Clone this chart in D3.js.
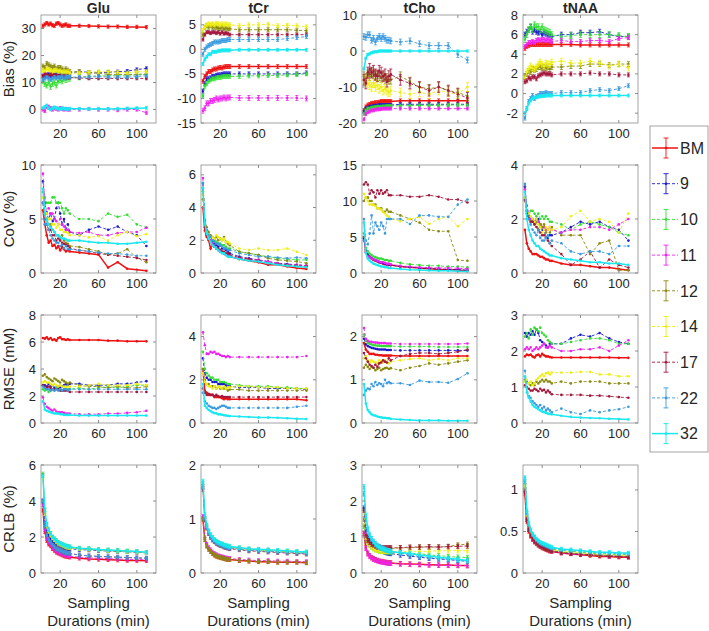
<!DOCTYPE html>
<html>
<head>
<meta charset="utf-8">
<script src="https://cdn.jsdelivr.net/npm/d3@7"></script>
<style>
  body { margin: 0; background: #fff; }
  svg text { font-family: "Liberation Sans", Arial, sans-serif; fill: #262626; }
</style>
</head>
<body>
<svg id="chart" width="709" height="631"></svg>
<script>
// Sampling durations (min)
const durations = [2,4,6,8,10,12,14,16,18,20,22,24,26,28,30,40,50,60,70,80,90,100,110];

// Series: BM, 9, 10, 11, 12, 14, 17, 22, 32
const seriesNames = ["BM","9","10","11","12","14","17","22","32"];
const seriesColors = ["#ee1111","#1a1acc","#33dd33","#ee22ee","#8a8a10","#eeee11","#a3183c","#3a9ae0","#18e8f0"];
const seriesSolid = [true,false,false,false,false,false,false,false,true];

const metabolites = ["Glu","tCr","tCho","tNAA"];
const metrics = ["Bias (%)","CoV (%)","RMSE (mM)","CRLB (%)"];

// y domains and ticks, row by row
const yDomains = [
  [[-5,35],[-15,7],[-20,10],[-3,8]],
  [[0,10],[0,6.6],[0,15],[0,4]],
  [[0,8],[0,5],[0,2.5],[0,3]],
  [[0,6],[0,2],[0,3],[0,1.3]]
];
const yTicks = [
  [[0,10,20,30],[-15,-10,-5,0,5],[-20,-10,0,10],[-2,0,2,4,6,8]],
  [[0,5,10],[0,2,4,6],[0,5,10,15],[0,2,4]],
  [[0,2,4,6,8],[0,2,4],[0,1,2],[0,1,2,3]],
  [[0,2,4,6],[0,1,2],[0,1,2,3],[0,0.5,1]]
];
const xTicks = [20,60,100];

// ---- Bias (%) ----
const biasGlu = [
  [31,31.5,32,31.5,31.8,31.2,31,31.8,32,31.5,31,31.2,31.5,31,31,31,30.9,30.8,30.7,30.7,30.6,30.6,30.5],
  [12.5,12,12.5,13,12.5,13,12.8,13,13.2,13,13,13.5,13,13.5,13.5,14,13.8,13.5,13.8,14,14.2,14.8,15.2],
  [10.5,9.5,9,10,8.5,9.5,10,9,10.5,11,10.5,11.5,11,11.5,11.5,12,12.2,12.5,12.5,12.7,12.7,12.8,13],
  [0,-0.5,1,1,0.5,0,0.5,0.3,0,0.5,0.3,0,0.2,0,0,0,0.2,0,0,-0.2,0,0,-1.2],
  [16,15.5,17,16.5,16,15.5,16,15,15.5,15.5,15,14.5,15,14.5,14,14,13.5,13.5,13,13,13,13,13.2],
  [14.5,14,15,14.8,14.5,14,14.5,14.5,14,14.2,13.8,14,13.8,14,13.5,13.5,13.8,14,14,13.8,13.5,14,14],
  [12.5,13,13,12.5,13,12.5,12.8,12.5,12.5,12.2,12,12.3,12,11.8,11.8,11.7,11.5,11.5,11.5,11.5,11.5,11.5,11.5],
  [11,11.5,12,11.5,11,11.5,12,11.5,12,11.8,12,11.5,12,12,12,12,12,12.2,12,12,12,12.2,12.5],
  [0.5,1,1.5,0.5,0,0.5,0.8,0.5,0.3,0.2,0.5,0.3,0.2,0.2,0.3,0.3,0.2,0.3,0.2,0.3,0.4,0.5,0.6]
];
const biasTCr = [
  [-6.5,-5.5,-5,-4.5,-4.5,-4.2,-4,-4,-3.8,-3.7,-3.8,-3.6,-3.5,-3.5,-3.5,-3.5,-3.5,-3.5,-3.5,-3.5,-3.5,-3.5,-3.5],
  [-8.5,-7,-6,-6,-5.8,-5.5,-5.5,-5.3,-5.2,-5.2,-5.1,-5,-5,-5,-5,-5,-5,-5,-5,-5,-5,-5,-4.8],
  [-9.5,-7.5,-7,-6.5,-6.2,-6,-6,-5.8,-5.7,-5.7,-5.6,-5.5,-5.5,-5.5,-5.5,-5.5,-5.4,-5.4,-5.3,-5.3,-5.2,-5.1,-5],
  [-12.5,-12,-11,-11,-10.5,-10.5,-10.3,-10,-10.2,-10,-10,-9.8,-10,-9.8,-9.8,-9.9,-9.9,-9.9,-9.9,-9.9,-9.9,-9.9,-10],
  [3,4.5,4.8,4.5,4.8,4.5,4.5,4.5,4.3,4.3,4.5,4.2,4.3,4.2,4.2,4,4,4,4,4,4,3.9,3.8],
  [3.8,4.5,5,5.2,5,5.2,5,5.3,5.2,5,5.2,5,5.2,5,5,4.8,5,5,5.1,4.8,4.9,4.8,4.6],
  [2,3,3.5,3.5,3.3,3.5,3.5,3.3,3.5,3.2,3.5,3.2,3.3,3.2,3,3,3,3,3,3,3,3,3],
  [-1,0,0.5,0.8,1,1.2,1.5,1.5,1.5,1.6,1.8,1.8,1.8,2,2,2,2,2,2,2,2.2,2.4,2.6],
  [-3,-2,-1.5,-1,-1,-0.5,-0.5,-0.5,-0.3,-0.3,-0.2,-0.2,-0.2,-0.2,-0.2,-0.1,-0.1,-0.1,-0.1,-0.1,-0.1,-0.1,-0.1]
];
const biasTCho = [
  [-16.5,-15.5,-15,-14.8,-14.5,-14.5,-14.3,-14.3,-14.2,-14,-14,-14,-14,-14,-14,-13.8,-13.8,-13.8,-13.8,-13.8,-13.8,-13.8,-13.8],
  [-17,-16,-15.8,-15.5,-15.5,-15.3,-15.2,-15.2,-15,-15,-15,-15,-15,-15,-15,-14.8,-14.8,-14.8,-14.8,-14.8,-14.8,-14.8,-14.8],
  [-17.5,-16.5,-16,-16,-15.8,-15.7,-15.6,-15.5,-15.5,-15.5,-15.4,-15.4,-15.3,-15.3,-15.3,-15.2,-15.2,-15.1,-15.1,-15.1,-15,-15,-15],
  [-19,-17.5,-17,-16.8,-16.5,-16.5,-16.3,-16.2,-16.2,-16.1,-16,-16,-16,-16,-16,-16,-16,-16,-16,-16,-16,-16,-16],
  [-7,-7.5,-6.5,-7,-6,-6.5,-7,-6.5,-7,-7.5,-7,-8,-7.5,-8,-8,-7,-8.5,-10,-10.5,-10,-11,-11.5,-12.5],
  [-8,-8.5,-9,-9.5,-10,-9,-10,-9.5,-10.5,-10,-11,-10.5,-11,-11.5,-11,-11.5,-12,-11.5,-12,-11,-11.5,-12,-10],
  [-8,-9,-6,-5,-6,-5.5,-6.5,-7,-5.5,-6,-7,-6.5,-8.5,-7,-6.5,-8,-9,-10,-11,-10,-11,-12,-13],
  [4,3.8,4.5,4.5,3,3.5,2.5,3.5,4,3.5,4,3.5,3,3,2.8,2.5,2.8,2,1.5,1.5,1.5,-1,-2.5],
  [-5,-2,-1,-0.8,-0.5,-0.3,-0.2,-0.2,0,0,0,0,0,0,0,0,0,0,0,0,0,0,0]
];
const biasTNAA = [
  [4.6,4.8,4.9,5,5,5,5,5,5,5,5,5,5,5,5,5,5,4.95,4.95,4.95,4.95,4.95,4.95],
  [6,6.3,6.5,6.8,6.3,6.5,6.3,6.2,6.3,6,6.2,6.1,6,6,5.8,6,6,6.2,6.2,6.3,6,5.8,5.8],
  [5.5,6,6.5,6.8,6.5,7,6.8,6.8,6.5,6.8,6.5,6.4,6.3,6.2,6,5.8,5.9,6,6,6,6,5.9,5.8],
  [4.8,5,5.2,5.2,5.3,5.2,5.4,5.5,5.4,5.5,5.5,5.4,5.5,5.4,5.3,5.4,5.3,5.3,5.4,5.4,5.3,5.6,5.7],
  [1.8,2,2.3,2.2,2.5,2.4,2.5,2.7,2.7,2.6,2.7,2.6,2.7,2.5,2.7,2.7,2.8,2.8,3,3,2.9,3,3],
  [1.5,2.2,2.5,2.8,2.6,2.5,2.7,3,3.2,3,2.8,3.1,3,3,3.2,3.3,3.1,3.1,3.3,3.1,2.8,3,2.6],
  [1.2,1.3,1.6,1.5,1.7,1.7,1.5,1.8,1.9,2,2.1,2,2,2,1.9,2,2,2,2.1,2,2,1.9,1.9],
  [-2.5,-1.5,-0.8,-0.5,-0.2,-0.5,-0.3,-0.2,0,0,0,0.1,0,0,0,0.1,0.1,0.1,0.3,0.4,0.3,0.5,0.8],
  [-2,-1.5,-1,-0.7,-0.5,-0.4,-0.4,-0.3,-0.3,-0.25,-0.25,-0.2,-0.2,-0.2,-0.2,-0.2,-0.2,-0.2,-0.2,-0.2,-0.2,-0.2,-0.2]
];

// ---- CoV (%) ----
const covGlu = [
  [5.8,4.5,3.5,2.8,3,2.5,2.6,2.3,2.5,2.1,2.4,2.2,2,2.1,2,1.9,1.8,1.7,0.5,1,0.4,0.3,0.2],
  [8.5,6.5,5.5,5,5.5,4.8,5,6,6.5,5.5,4.5,5,4,4.5,3.8,3.5,4,4.3,4,4.3,3.8,3.5,2.5],
  [7.5,7,6.5,6.5,6.5,7,7,6.5,6.5,6.5,6,5.5,6,5.8,5.5,5,5,4.8,5.5,5.2,5.4,4.5,4.2],
  [9.2,6.5,5.5,6,5.5,5.5,5,4.8,4.5,5,4.5,4.3,4,4,3.8,3.7,3.8,3.5,3.5,3.7,3.8,3.8,4.2],
  [6.5,5.5,5,4.5,4.5,4,3.8,3.5,3.5,3.2,3.5,3,2.8,2.7,2.5,2.4,2.2,2,1.7,1.8,2.2,1.4,1],
  [7,6,5.5,5,5,4.5,4.5,4.2,4.5,4,4,3.8,3.8,3.7,3.5,3.5,3.3,3.4,3,3.5,3.8,3.4,3.6],
  [6.5,5,4.5,4,4,3.5,3.5,3,3.2,3,2.8,2.7,2.6,2.5,2.3,2.1,2,1.8,1.7,1.6,1.5,1.4,1.2],
  [6.5,4.5,4.5,4,3.5,3.2,3,2.8,2.8,2.5,2.6,2.3,2.5,2.2,2.2,2.1,2,1.9,1.8,1.8,1.7,1.6,1.6],
  [7.8,5.5,4.8,4.5,4.2,4,3.8,3.5,3.5,3.3,3.2,3.2,3.1,3,3,3,2.9,2.8,2.8,2.7,2.7,2.8,2.9]
];
const covTCr = [
  [4,2.6,2.2,2,1.5,1.8,1.6,1.5,1.4,1.4,1.3,1.2,1.1,1.1,1,0.85,0.75,0.65,0.5,0.5,0.4,0.3,0.25],
  [5.5,3,2.4,2.2,2,1.9,1.8,1.7,1.6,1.7,1.5,1.5,1.4,1.3,1.2,1,0.9,0.8,0.7,0.6,0.55,0.5,0.45],
  [5,3.2,2.6,2.3,2.2,2,2,1.9,1.8,1.8,1.7,1.7,1.6,1.5,1.5,1.3,1.2,1.1,1,0.9,0.85,0.8,0.8],
  [5.8,3,2.5,2.2,2,1.8,1.6,1.5,1.4,1.3,1.3,1.2,1.1,1.1,1,0.9,0.85,0.8,0.7,0.6,0.5,0.5,0.45],
  [4.5,3.2,2.8,2.5,2.3,2.2,2.1,2.2,2,2.1,2,2.2,1.9,1.8,1.7,1.3,1.2,1.1,0.9,0.8,0.75,0.7,0.6],
  [4.8,3,2.5,2.3,2.2,2.2,2.1,2.3,2.2,2.1,2,2.1,1.9,1.9,1.8,1.5,1.4,1.5,1.4,1.4,1.5,1.3,1.1],
  [5.2,2.8,2.3,2.1,1.9,1.7,1.6,1.5,1.5,1.4,1.3,1.3,1.2,1.2,1.1,0.95,0.85,0.75,0.6,0.55,0.5,0.45,0.4],
  [5.5,3.2,2.6,2.3,2.2,2,1.9,1.8,1.8,1.7,1.6,1.5,1.5,1.4,1.4,1.2,1.1,1,1,0.95,0.9,0.95,0.9],
  [5.2,3,2.4,2.1,1.9,1.7,1.6,1.5,1.4,1.3,1.2,1.2,1.1,1,1,0.85,0.75,0.7,0.6,0.5,0.45,0.4,0.35]
];
const covTCho = [
  [5,3,2.5,2.2,2,1.8,1.7,1.6,1.5,1.4,1.3,1.2,1.2,1.1,1.1,0.9,0.8,0.7,0.6,0.5,0.45,0.4,0.3],
  [4.8,3.2,2.6,2.3,2.1,1.9,1.8,1.7,1.5,1.5,1.4,1.3,1.2,1.2,1.1,0.9,0.8,0.7,0.6,0.6,0.5,0.45,0.4],
  [5.5,3.5,3,2.7,2.5,2.3,2.2,2.1,2,2,1.9,1.8,1.8,1.7,1.7,1.4,1.2,1.1,1,1,0.9,0.9,0.8],
  [4.5,2.8,2.3,2.2,2,1.9,1.8,1.7,1.6,1.5,1.5,1.4,1.3,1.3,1.2,1,0.9,0.8,0.75,0.7,0.7,0.65,0.6],
  [10,10.5,10.5,10,10,9.5,9.5,9,9,9,8.5,8.5,8.8,8.5,8.5,8,7.5,7,6,5.8,5.8,1.8,1.7],
  [11,10.5,10,9.5,9.5,9.5,9.3,9,9,8.8,8.5,8.3,8,7.8,7.5,7.2,7.5,7.8,6.8,7.5,7.8,6.5,7.5],
  [12.3,12.6,12.3,11,11.5,11.2,10.5,11.5,11,11.5,11,11.2,11.5,10.8,10.8,10.8,10.6,10.6,10.8,10.6,10.2,10.2,9.8],
  [7.5,4.5,4,5.5,8,5.5,7,6.5,6,7,6.5,5.5,7.5,7.5,7.5,7.5,6.8,8,8,7.8,7.8,9.5,10.2],
  [7,2.8,2,1.7,1.5,1.3,1.2,1.1,1,0.9,0.9,0.8,0.8,0.7,0.7,0.55,0.45,0.4,0.35,0.3,0.3,0.25,0.2]
];
const covTNAA = [
  [1.6,1.1,0.9,0.8,0.7,0.7,0.7,0.65,0.6,0.6,0.55,0.5,0.5,0.45,0.45,0.35,0.3,0.3,0.25,0.2,0.2,0.15,0.1],
  [3.2,2.3,2.1,2,1.9,1.9,2,2,1.8,1.6,1.6,1.3,1.3,1.4,1.4,1.5,1.7,1.9,1.8,1.9,1.7,1.6,1.2],
  [2.8,2.3,2.2,2.3,2.3,2.2,2.1,2.2,2,2.1,2,2.1,2,1.9,1.9,1.8,1.6,1.8,1.9,1.8,1.7,1.5,1.4],
  [3.1,2.5,2.2,2,2,1.9,2,1.9,1.8,1.7,1.7,1.6,1.6,1.7,1.6,1.5,1.6,1.6,1.7,1.7,1.6,1.8,2],
  [2.7,2.3,2,1.9,2,1.8,1.9,1.6,1.8,1.7,1.8,1.5,1.6,1.5,1.7,1.4,1.4,1.4,0.7,1.1,1.2,0.1,0.1],
  [2.8,2.3,2.2,2.1,2,1.9,2,1.8,1.7,1.5,1.6,1.7,1.6,1.7,1.6,1.7,2.1,2.3,1.9,2,1.9,1.5,2.2],
  [2.7,2.2,2,1.9,1.9,1.8,1.7,1.6,1.5,1.4,1.4,1.3,1.2,1.1,1,0.7,0.3,0.5,0.8,0.2,0.5,0.3,0.2],
  [3.3,2.3,2,1.8,1.6,1.5,1.4,1.6,1.3,1.2,1.2,1.3,1.4,1.1,1.2,1.1,0.8,0.7,0.8,0.8,0.7,1,1],
  [3,2,1.6,1.4,1.2,1.1,1,1,0.9,0.85,0.8,0.75,0.7,0.65,0.65,0.55,0.5,0.45,0.4,0.4,0.35,0.35,0.3]
];

// ---- RMSE (mM) ----
const rmseGlu = [
  [6.3,6.25,6.35,6.2,6.3,6.15,6.2,6.1,6.3,6.35,6.2,6.2,6.15,6.2,6.15,6.15,6.15,6.15,6.1,6.1,6.05,6.05,6.05],
  [2.8,2.8,2.7,2.9,2.7,2.8,2.6,2.6,2.7,2.6,2.7,2.8,2.9,2.8,2.9,2.9,2.8,2.8,2.8,2.9,2.9,3,3.1],
  [2.5,2.4,2.5,2.3,2.4,2.5,2.4,2.6,2.5,2.5,2.4,2.5,2.5,2.5,2.5,2.6,2.5,2.6,2.7,2.6,2.7,2.8,2.8],
  [1.9,1.4,1.2,1.1,1,0.9,1,0.85,0.8,0.8,0.8,0.75,0.7,0.7,0.7,0.65,0.65,0.65,0.7,0.7,0.75,0.8,0.9],
  [3.5,3.6,3.4,3.3,3.2,3.1,3.3,3.2,3.1,3,3.2,3.1,3,2.9,3,2.8,2.7,2.7,2.6,2.7,2.6,2.6,2.7],
  [3,3.1,3,3,2.9,2.8,2.9,2.8,2.7,2.8,2.7,2.7,2.6,2.7,2.7,2.7,2.8,2.9,2.8,2.8,2.8,2.9,2.8],
  [2.8,2.7,2.6,2.7,2.6,2.5,2.5,2.5,2.5,2.4,2.4,2.4,2.4,2.4,2.3,2.3,2.3,2.3,2.3,2.3,2.3,2.3,2.3],
  [2.7,2.6,2.5,2.5,2.4,2.5,2.4,2.5,2.4,2.5,2.4,2.5,2.5,2.4,2.5,2.5,2.5,2.5,2.5,2.5,2.5,2.5,2.5],
  [1.6,1,0.9,0.85,0.8,0.75,0.7,0.7,0.7,0.65,0.65,0.6,0.6,0.6,0.6,0.55,0.55,0.55,0.55,0.55,0.55,0.55,0.55]
];
const rmseTCr = [
  [2.5,1.5,1.4,1.3,1.3,1.3,1.2,1.2,1.2,1.2,1.15,1.1,1.15,1.1,1.1,1.1,1.1,1.1,1.1,1.1,1.1,1.1,1.05],
  [3,2.3,2.1,2,2,1.9,1.9,1.9,1.8,1.8,1.8,1.8,1.75,1.7,1.7,1.65,1.65,1.65,1.6,1.6,1.6,1.6,1.55],
  [3.3,2.5,2.3,2.2,2.1,2.1,2,2,2,1.9,1.9,1.9,1.85,1.8,1.8,1.75,1.7,1.7,1.7,1.65,1.65,1.6,1.6],
  [4.2,3.6,3.2,3.2,3.3,3.25,3.3,3.2,3.2,3.15,3.1,3.1,3.05,3.1,3.05,3.05,3.05,3.05,3.05,3.05,3.05,3.05,3.1],
  [2.5,2,1.8,1.8,1.7,1.7,1.7,1.6,1.7,1.6,1.6,1.6,1.6,1.5,1.55,1.55,1.5,1.5,1.5,1.5,1.5,1.5,1.5],
  [2.3,1.9,1.8,1.7,1.7,1.6,1.7,1.6,1.7,1.65,1.6,1.7,1.6,1.65,1.65,1.7,1.7,1.65,1.65,1.65,1.6,1.6,1.6],
  [1.6,1.4,1.3,1.35,1.3,1.3,1.25,1.3,1.25,1.2,1.25,1.2,1.2,1.2,1.2,1.2,1.2,1.2,1.2,1.2,1.2,1.2,1.2],
  [1.4,1,0.9,0.8,0.75,0.7,0.7,0.65,0.7,0.75,0.8,0.8,0.75,0.7,0.7,0.7,0.7,0.7,0.7,0.7,0.7,0.75,0.8],
  [1.8,0.8,0.7,0.6,0.55,0.5,0.45,0.45,0.4,0.4,0.38,0.36,0.35,0.33,0.32,0.3,0.28,0.26,0.25,0.24,0.22,0.2,0.18]
];
const rmseTCho = [
  [1.85,1.7,1.65,1.6,1.6,1.6,1.58,1.58,1.57,1.57,1.56,1.56,1.56,1.56,1.56,1.55,1.55,1.55,1.55,1.55,1.55,1.55,1.55],
  [1.95,1.82,1.78,1.76,1.74,1.73,1.72,1.71,1.7,1.7,1.7,1.7,1.69,1.69,1.69,1.68,1.68,1.68,1.68,1.68,1.68,1.68,1.68],
  [2.05,1.9,1.85,1.83,1.82,1.8,1.8,1.79,1.79,1.78,1.78,1.78,1.78,1.78,1.78,1.77,1.77,1.77,1.77,1.76,1.76,1.76,1.76],
  [2.2,1.95,1.9,1.88,1.88,1.87,1.86,1.86,1.85,1.85,1.85,1.85,1.84,1.84,1.84,1.83,1.83,1.83,1.83,1.83,1.83,1.83,1.84],
  [1.28,1.35,1.3,1.25,1.3,1.28,1.22,1.25,1.28,1.22,1.25,1.27,1.28,1.25,1.27,1.22,1.28,1.32,1.38,1.35,1.38,1.42,1.45],
  [1.5,1.55,1.45,1.4,1.45,1.42,1.4,1.38,1.45,1.42,1.4,1.45,1.4,1.38,1.42,1.45,1.48,1.5,1.45,1.48,1.45,1.5,1.5],
  [1.62,1.5,1.42,1.35,1.32,1.28,1.35,1.3,1.38,1.4,1.45,1.42,1.4,1.5,1.45,1.55,1.6,1.62,1.62,1.6,1.62,1.65,1.7],
  [0.65,0.75,0.8,0.78,0.9,0.85,0.95,0.88,0.92,0.9,0.85,1,0.92,0.95,0.92,0.92,0.88,0.98,0.95,0.95,0.93,1.02,1.15],
  [0.9,0.45,0.3,0.25,0.2,0.18,0.17,0.15,0.14,0.13,0.12,0.12,0.11,0.11,0.1,0.08,0.07,0.06,0.06,0.06,0.05,0.05,0.05]
];
const rmseTNAA = [
  [1.85,1.9,1.88,1.9,1.85,1.82,1.88,1.9,1.85,1.92,1.88,1.85,1.85,1.83,1.82,1.82,1.82,1.82,1.82,1.82,1.82,1.81,1.81],
  [2.5,2.4,2.5,2.45,2.55,2.45,2.6,2.5,2.3,2.25,2.2,2.15,2.1,2.2,2.2,2.2,2.35,2.45,2.4,2.5,2.35,2.25,2.2],
  [2.4,2.5,2.35,2.6,2.45,2.65,2.6,2.55,2.65,2.5,2.45,2.4,2.3,2.25,2.2,2.2,2.25,2.3,2.35,2.35,2.3,2.2,2.2],
  [2.05,2.1,2.05,2.1,2,2.05,2.1,2.05,2.1,2.15,2.2,2.1,2.1,2.15,2.1,2,2,2.05,2.05,2.1,2,2.15,2.3],
  [1.2,1.15,1.1,1.05,1.1,1.05,1.15,1.1,1.15,1.2,1.15,1.2,1.15,1.15,1.1,1.15,1.1,1.15,1.15,1.15,1.1,1.1,1.1],
  [1.15,1.2,1.1,1.15,1.05,1.1,1.2,1.25,1.3,1.35,1.3,1.38,1.4,1.35,1.4,1.4,1.4,1.42,1.42,1.35,1.35,1.3,1.3],
  [1.05,1,0.95,0.9,0.9,0.95,0.92,0.88,0.95,0.9,0.92,0.85,0.9,0.85,0.8,0.78,0.78,0.78,0.76,0.76,0.74,0.72,0.7],
  [1.45,1,0.75,0.7,0.6,0.55,0.5,0.45,0.5,0.4,0.45,0.35,0.4,0.35,0.3,0.4,0.3,0.25,0.35,0.3,0.35,0.38,0.45],
  [1.3,0.85,0.7,0.6,0.5,0.45,0.42,0.38,0.35,0.32,0.3,0.28,0.26,0.25,0.24,0.2,0.17,0.15,0.14,0.13,0.12,0.11,0.1]
];

// ---- CRLB (%) ----
const crlbGlu = [
  [3.5,2.3,1.8,1.6,1.5,1.35,1.25,1.15,1.1,1.05,1,0.95,0.92,0.9,0.88,0.82,0.78,0.76,0.74,0.72,0.7,0.69,0.68],
  [4,2.8,2.3,2.1,1.9,1.8,1.7,1.6,1.55,1.5,1.45,1.4,1.4,1.35,1.35,1.3,1.28,1.25,1.22,1.2,1.18,1.15,1.12],
  [5.5,3.5,2.7,2.4,2.2,2,1.9,1.8,1.7,1.65,1.6,1.55,1.5,1.48,1.45,1.38,1.35,1.3,1.28,1.25,1.22,1.2,1.15],
  [3.8,2.4,1.9,1.7,1.55,1.4,1.3,1.2,1.15,1.1,1.05,1,0.98,0.95,0.93,0.88,0.84,0.82,0.8,0.78,0.76,0.75,0.74],
  [5.4,3.4,2.6,2.3,2.1,1.95,1.85,1.75,1.65,1.6,1.55,1.5,1.45,1.43,1.4,1.35,1.32,1.28,1.25,1.22,1.2,1.17,1.13],
  [5.3,3.3,2.6,2.3,2.1,1.95,1.85,1.75,1.65,1.6,1.55,1.5,1.45,1.43,1.4,1.35,1.32,1.28,1.25,1.22,1.2,1.17,1.13],
  [4,2.6,2.1,1.85,1.7,1.55,1.45,1.35,1.3,1.25,1.2,1.15,1.12,1.1,1.08,1,0.95,0.92,0.9,0.88,0.86,0.84,0.82],
  [4,2.6,2.1,1.85,1.7,1.55,1.45,1.35,1.3,1.25,1.2,1.15,1.12,1.1,1.08,1,0.95,0.92,0.9,0.88,0.86,0.84,0.82],
  [5.4,3.5,2.7,2.4,2.2,2,1.9,1.8,1.7,1.65,1.6,1.55,1.5,1.48,1.45,1.38,1.35,1.3,1.28,1.25,1.22,1.2,1.15]
];
const crlbTCr = [
  [1,0.62,0.5,0.44,0.4,0.36,0.33,0.31,0.3,0.29,0.28,0.27,0.26,0.25,0.25,0.23,0.22,0.21,0.21,0.2,0.2,0.2,0.19],
  [1.6,1,0.85,0.75,0.68,0.63,0.6,0.57,0.55,0.53,0.52,0.5,0.49,0.48,0.47,0.45,0.43,0.42,0.41,0.4,0.39,0.38,0.37],
  [1.65,1.05,0.87,0.77,0.7,0.65,0.61,0.58,0.56,0.54,0.53,0.51,0.5,0.49,0.48,0.46,0.44,0.43,0.42,0.41,0.4,0.39,0.38],
  [1.05,0.65,0.53,0.47,0.43,0.39,0.36,0.34,0.32,0.31,0.3,0.29,0.28,0.27,0.27,0.25,0.24,0.23,0.23,0.22,0.22,0.21,0.21],
  [1,0.62,0.5,0.44,0.4,0.36,0.34,0.32,0.3,0.29,0.28,0.27,0.26,0.25,0.25,0.23,0.22,0.21,0.21,0.2,0.2,0.2,0.19],
  [1.6,1,0.85,0.75,0.68,0.63,0.6,0.57,0.55,0.53,0.52,0.5,0.49,0.48,0.47,0.45,0.43,0.42,0.41,0.4,0.39,0.38,0.37],
  [1.55,0.98,0.83,0.73,0.66,0.61,0.58,0.55,0.53,0.51,0.5,0.48,0.47,0.46,0.45,0.43,0.41,0.4,0.39,0.38,0.37,0.36,0.35],
  [1.6,1,0.84,0.74,0.67,0.62,0.59,0.56,0.54,0.52,0.51,0.49,0.48,0.47,0.46,0.44,0.42,0.41,0.4,0.39,0.38,0.37,0.36],
  [1.7,1.08,0.88,0.78,0.71,0.66,0.62,0.59,0.57,0.55,0.54,0.52,0.51,0.5,0.49,0.47,0.45,0.44,0.43,0.42,0.41,0.4,0.39]
];
const crlbTCho = [
  [1.1,0.7,0.55,0.48,0.43,0.4,0.37,0.35,0.33,0.32,0.31,0.3,0.29,0.28,0.28,0.26,0.25,0.24,0.23,0.22,0.22,0.21,0.21],
  [1.8,1.2,1,0.9,0.82,0.77,0.72,0.68,0.65,0.62,0.6,0.58,0.56,0.55,0.54,0.5,0.47,0.44,0.41,0.39,0.37,0.35,0.33],
  [1.3,0.95,0.85,0.78,0.72,0.68,0.65,0.63,0.61,0.6,0.6,0.59,0.58,0.58,0.57,0.56,0.55,0.54,0.5,0.48,0.46,0.44,0.43],
  [1.1,0.68,0.53,0.46,0.42,0.38,0.36,0.34,0.32,0.31,0.3,0.29,0.28,0.27,0.27,0.25,0.24,0.23,0.22,0.22,0.21,0.21,0.2],
  [1.5,0.95,0.85,0.8,0.75,0.72,0.7,0.68,0.66,0.65,0.65,0.66,0.67,0.68,0.68,0.7,0.7,0.72,0.72,0.72,0.74,0.78,0.8],
  [1.7,1,0.85,0.78,0.72,0.68,0.65,0.63,0.62,0.6,0.6,0.6,0.6,0.6,0.6,0.6,0.6,0.6,0.6,0.62,0.62,0.62,0.62],
  [1.75,1.05,0.9,0.85,0.8,0.78,0.75,0.72,0.72,0.7,0.7,0.7,0.7,0.7,0.7,0.7,0.72,0.72,0.73,0.72,0.73,0.74,0.75],
  [2.2,1.5,1.2,1.05,0.95,0.88,0.82,0.77,0.73,0.7,0.68,0.65,0.63,0.62,0.6,0.55,0.5,0.46,0.43,0.4,0.38,0.35,0.32],
  [2.4,1.6,1.25,1.05,0.95,0.87,0.8,0.75,0.72,0.69,0.67,0.65,0.63,0.62,0.6,0.57,0.54,0.5,0.47,0.44,0.41,0.38,0.35]
];
const crlbTNAA = [
  [0.95,0.62,0.5,0.44,0.4,0.37,0.35,0.33,0.32,0.3,0.29,0.28,0.27,0.26,0.26,0.24,0.23,0.22,0.21,0.2,0.2,0.19,0.19],
  [1.05,0.68,0.55,0.48,0.43,0.4,0.37,0.35,0.33,0.32,0.31,0.3,0.29,0.28,0.27,0.25,0.24,0.23,0.22,0.22,0.21,0.21,0.2],
  [1.1,0.72,0.58,0.5,0.45,0.42,0.39,0.37,0.35,0.34,0.33,0.32,0.31,0.3,0.29,0.27,0.26,0.25,0.24,0.23,0.23,0.22,0.22],
  [1,0.65,0.52,0.46,0.41,0.38,0.36,0.34,0.32,0.31,0.3,0.29,0.28,0.27,0.26,0.24,0.23,0.22,0.22,0.21,0.2,0.2,0.19],
  [1,0.66,0.53,0.46,0.42,0.39,0.36,0.34,0.33,0.31,0.3,0.29,0.28,0.27,0.27,0.25,0.24,0.23,0.22,0.21,0.21,0.2,0.2],
  [1.05,0.68,0.55,0.48,0.43,0.4,0.37,0.35,0.34,0.32,0.31,0.3,0.29,0.28,0.28,0.26,0.25,0.24,0.23,0.22,0.22,0.21,0.21],
  [0.98,0.64,0.52,0.45,0.41,0.38,0.36,0.34,0.32,0.31,0.3,0.29,0.28,0.27,0.26,0.24,0.23,0.22,0.22,0.21,0.2,0.2,0.19],
  [1.1,0.72,0.58,0.51,0.46,0.43,0.4,0.38,0.36,0.35,0.34,0.33,0.32,0.31,0.3,0.28,0.27,0.26,0.25,0.24,0.24,0.23,0.23],
  [1.15,0.75,0.6,0.52,0.47,0.44,0.41,0.39,0.37,0.36,0.35,0.34,0.33,0.32,0.31,0.29,0.28,0.27,0.26,0.25,0.25,0.24,0.24]
];

// Error bar half-widths per series (Bias and CRLB rows)
const biasErrGlu  = [0.6,0.6,1.0,0.6,0.8,0.7,0.5,0.6,0.5];
const biasErrTCr  = [0.4,0.4,0.4,0.5,0.4,0.4,0.3,0.4,0.3];
const biasErrTCho = [0.5,0.4,0.4,0.4,1.2,1.2,1.5,0.8,0.3];
const biasErrTNAA = [0.2,0.25,0.3,0.2,0.25,0.3,0.2,0.2,0.15];
const crlbErr = [0.1,0.035,0.06,0.02];

const rows = [
  { data: [biasGlu, biasTCr, biasTCho, biasTNAA], err: [biasErrGlu, biasErrTCr, biasErrTCho, biasErrTNAA] },
  { data: [covGlu, covTCr, covTCho, covTNAA], err: null },
  { data: [rmseGlu, rmseTCr, rmseTCho, rmseTNAA], err: null },
  { data: [crlbGlu, crlbTCr, crlbTCho, crlbTNAA], err: crlbErr.map(e => seriesNames.map(() => e)) }
];

// Layout
const colLeft = [41, 201, 362, 523];
const rowTop = [15, 165, 315, 465];
const panelW = 115, panelH = 108;
const axisGray = "#8c8c8c";

const svg = d3.select("#chart");

rows.forEach((row, r) => {
  row.data.forEach((panelData, c) => {
    const g = svg.append("g").attr("transform", `translate(${colLeft[c]},${rowTop[r]})`);
    const x = d3.scaleLinear().domain([0, 120]).range([0, panelW]);
    const y = d3.scaleLinear().domain(yDomains[r][c]).range([panelH, 0]);

    g.append("rect").attr("width", panelW).attr("height", panelH).attr("fill", "#fff");

    const clipId = `clip-${r}-${c}`;
    g.append("clipPath").attr("id", clipId)
      .append("rect").attr("width", panelW).attr("height", panelH);
    const plot = g.append("g").attr("clip-path", `url(#${clipId})`);

    const line = d3.line().x((d, i) => x(durations[i])).y(d => y(d));

    panelData.forEach((vals, s) => {
      const col = seriesColors[s];
      const sg = plot.append("g");
      if (row.err) {
        const e = row.err[c][s];
        sg.selectAll("path.eb").data(vals).join("path")
          .attr("d", (d, i) => {
            const px = x(durations[i]), y0 = y(d - e), y1 = y(d + e);
            return `M${px},${y0}V${y1}M${px - 1.5},${y0}H${px + 1.5}M${px - 1.5},${y1}H${px + 1.5}`;
          })
          .attr("stroke", col).attr("stroke-width", 0.8).attr("fill", "none");
      }
      sg.append("path").datum(vals).attr("d", line)
        .attr("fill", "none").attr("stroke", col)
        .attr("stroke-width", seriesSolid[s] ? 1.5 : 0.9)
        .attr("stroke-dasharray", seriesSolid[s] ? null : "3,2");
      sg.selectAll("circle").data(vals).join("circle")
        .attr("cx", (d, i) => x(durations[i])).attr("cy", d => y(d))
        .attr("r", 1.3).attr("fill", col);
    });

    // box
    g.append("rect").attr("width", panelW).attr("height", panelH)
      .attr("fill", "none").attr("stroke", axisGray).attr("stroke-width", 0.8);

    // y ticks
    yTicks[r][c].forEach(t => {
      const py = y(t);
      g.append("line").attr("x1", 0).attr("x2", 3).attr("y1", py).attr("y2", py).attr("stroke", axisGray);
      g.append("line").attr("x1", panelW - 3).attr("x2", panelW).attr("y1", py).attr("y2", py).attr("stroke", axisGray);
      g.append("text").attr("x", -5).attr("y", py).attr("dy", "0.35em")
        .attr("text-anchor", "end").attr("font-size", 13).text(t);
    });
    // x ticks
    xTicks.forEach(t => {
      const px = x(t);
      g.append("line").attr("x1", px).attr("x2", px).attr("y1", panelH).attr("y2", panelH - 3).attr("stroke", axisGray);
      g.append("line").attr("x1", px).attr("x2", px).attr("y1", 0).attr("y2", 3).attr("stroke", axisGray);
      g.append("text").attr("x", px).attr("y", panelH + 15)
        .attr("text-anchor", "middle").attr("font-size", 13).text(t);
    });

    if (r === 0) {
      g.append("text").attr("x", panelW / 2).attr("y", -2).attr("text-anchor", "middle")
        .attr("font-size", 14).attr("font-weight", "bold").text(metabolites[c]);
    }
    if (c === 0) {
      g.append("text").attr("transform", `translate(${-27},${panelH / 2}) rotate(-90)`)
        .attr("text-anchor", "middle").attr("font-size", 15).text(metrics[r]);
    }
    if (r === 3) {
      g.append("text").attr("x", panelW / 2).attr("y", panelH + 35).attr("text-anchor", "middle")
        .attr("font-size", 15).text("Sampling");
      g.append("text").attr("x", panelW / 2).attr("y", panelH + 53).attr("text-anchor", "middle")
        .attr("font-size", 15).text("Durations (min)");
    }
  });
});

// Legend
const legX = 650, legY = 126, legW = 58, legH = 326, legStep = 35.7;
const leg = svg.append("g").attr("transform", `translate(${legX},${legY})`);
leg.append("rect").attr("width", legW).attr("height", legH)
  .attr("fill", "#fff").attr("stroke", axisGray).attr("stroke-width", 0.8);
seriesNames.forEach((name, s) => {
  const ly = 22 + s * legStep;
  const col = seriesColors[s];
  leg.append("line").attr("x1", 2).attr("x2", 28).attr("y1", ly).attr("y2", ly)
    .attr("stroke", col).attr("stroke-width", seriesSolid[s] ? 1.5 : 0.9)
    .attr("stroke-dasharray", seriesSolid[s] ? null : "3,2");
  leg.append("path")
    .attr("d", `M16,${ly - 10}V${ly + 10}M13.5,${ly - 10}H18.5M13.5,${ly + 10}H18.5`)
    .attr("stroke", col).attr("stroke-width", 0.9).attr("fill", "none");
  leg.append("circle").attr("cx", 16).attr("cy", ly).attr("r", 1.3).attr("fill", col);
  leg.append("text").attr("x", 30).attr("y", ly).attr("dy", "0.36em")
    .attr("font-size", 16).text(name);
});
</script>
</body>
</html>
